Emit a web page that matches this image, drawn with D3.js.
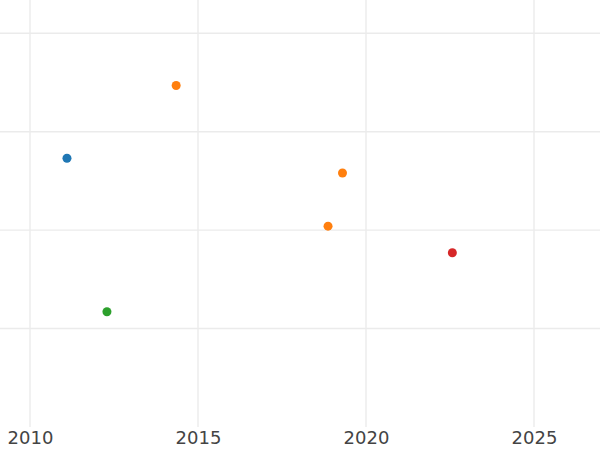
<!DOCTYPE html>
<html>
<head>
<meta charset="utf-8">
<script src="https://cdn.jsdelivr.net/npm/d3@7"></script>
<style>
  body { margin: 0; background: #fff; }
  svg { display: block; font-family: "DejaVu Sans", sans-serif; }
</style>
</head>
<body>
<div id="chart"></div>
<script>
// data
const years  = [2011.1, 2014.35, 2019.3, 2018.87, 2022.57, 2012.29];
const values = [2.73, 3.47, 2.58, 2.04, 1.77, 1.17];
const groups = ["A", "B", "B", "B", "D", "C"];
const groupNames = ["A", "B", "C", "D"];
const xTicks = [2010, 2015, 2020, 2025];
const yTicks = [1, 2, 3, 4];

const width = 600, height = 450;
const plotBottom = 427;

const svg = d3.select("#chart").append("svg")
    .attr("width", width)
    .attr("height", height);

const x = d3.scaleLinear()
    .domain([2010, 2025])
    .range([30, 534]);

const y = d3.scaleLinear()
    .domain([1, 4])
    .range([328.5, 33.3]);

const color = d3.scaleOrdinal()
    .domain(groupNames)
    .range(["#1f77b4", "#ff7f0e", "#2ca02c", "#d62728"]);

//grid
const grid = svg.append("g").attr("class", "grid");

grid.selectAll(".hgrid")
  .data(yTicks)
  .enter().append("line")
    .attr("x1", 0)
    .attr("x2", width)
    .attr("y1", d => y(d))
    .attr("y2", d => y(d))
    .style("stroke", "#ebebeb")
    .style("stroke-width", "1.4px");

grid.selectAll(".vgrid")
  .data(xTicks)
  .enter().append("line")
    .attr("x1", d => x(d))
    .attr("x2", d => x(d))
    .attr("y1", 0)
    .attr("y2", plotBottom)
    .style("stroke", "#ebebeb")
    .style("stroke-width", "1.4px");

//x axis labels
const xAxis = svg.append("g")
    .attr("transform", "translate(0," + plotBottom + ")")
    .call(d3.axisBottom(x).tickValues(xTicks).tickFormat(d3.format("d")).tickSize(0).tickPadding(4));
xAxis.select(".domain").remove();
xAxis.selectAll("text")
    .style("font-size", "18px")
    .style("font-family", "DejaVu Sans, sans-serif")
    .style("fill", "#444444");

//points
svg.append("g").selectAll("circle")
  .data(years)
  .enter().append("circle")
    .attr("cx", d => x(d))
    .attr("cy", (d, i) => y(values[i]))
    .attr("r", 4.5)
    .style("fill", (d, i) => color(groups[i]));
</script>
</body>
</html>
